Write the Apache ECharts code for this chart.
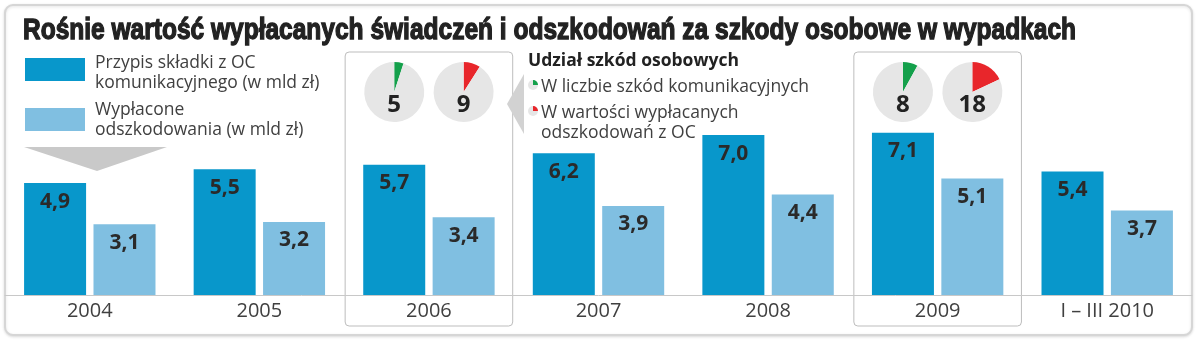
<!DOCTYPE html>
<html><head><meta charset="utf-8">
<script src="https://cdn.jsdelivr.net/npm/echarts@6/dist/echarts.min.js"></script>
<style>html,body{margin:0;padding:0;background:#fff}#c{width:1200px;height:343px}</style>
</head><body><div id="c"></div>
<script>
const titleText = 'Rośnie wartość wypłacanych świadczeń i odszkodowań za szkody osobowe w wypadkach';
const categories = ['2004', '2005', '2006', '2007', '2008', '2009', 'I – III 2010'];
const premiumName = 'Przypis składki z OC\nkomunikacyjnego (w mld zł)';
const premiums = [4.9, 5.5, 5.7, 6.2, 7.0, 7.1, 5.4];
const payoutName = 'Wypłacone\nodszkodowania (w mld zł)';
const payouts = [3.1, 3.2, 3.4, 3.9, 4.4, 5.1, 3.7];
const pieYears = ['2006', '2009'];
const shareInCount = [5, 8];
const shareInValue = [9, 18];
const pieLegendTitle = 'Udział szkód osobowych';
const pieLegendCount = 'W liczbie szkód komunikacyjnych';
const pieLegendValue = 'W wartości wypłacanych\nodszkodowań z OC';

const DARK = '#0897cb', LIGHT = '#80bfe1', GREEN = '#14a04b', RED = '#e8262b', PIEBG = '#e6e6e6';
const FONT = '"Open Sans", "DejaVu Sans", sans-serif';
const TEXTC = '#404040';
const BAR_W = 62, GAP = 7.4;
const GRID = { left: 5, right: 8, top: 66.5, bottom: 48 };

const chart = echarts.init(document.getElementById('c'), null, { renderer: 'canvas' });
const fmt = p => p.value.toFixed(1).replace('.', ',');
const labelStyle = { show: true, position: 'insideTop', distance: 8, formatter: fmt,
  fontFamily: FONT, fontWeight: 'bold', fontSize: 21, color: '#2a2a2a' };

chart.setOption({
  animation: false,
  backgroundColor: '#fff',
  grid: GRID,
  xAxis: { type: 'category', data: categories,
    axisLine: { lineStyle: { color: '#c8c8c8', width: 1 } },
    axisTick: { show: false },
    axisLabel: { fontFamily: FONT, fontSize: 20, color: TEXTC, margin: 6 } },
  yAxis: { type: 'value', min: 0, max: 10, show: false },
  series: [
    { name: premiumName, type: 'bar', data: premiums, barWidth: BAR_W, barGap: (GAP / BAR_W * 100) + '%',
      itemStyle: { color: DARK }, label: labelStyle, z: 3 },
    { name: payoutName, type: 'bar', data: payouts, barWidth: BAR_W,
      itemStyle: { color: LIGHT }, label: labelStyle, z: 3 }
  ]
});

const off = (BAR_W + GAP) / 2;
const band = (1200 - GRID.left - GRID.right) / categories.length;
const PIE_Y = 92, PIE_R = 30;
const pieSeries = [];
const graphics = [];

// outer frame
graphics.push({ type: 'rect', z: -10, shape: { x: 5, y: 5, width: 1187, height: 330, r: 8 },
  style: { fill: '#fff', stroke: '#d6d6d6', lineWidth: 2, shadowBlur: 3, shadowColor: 'rgba(0,0,0,0.12)', shadowOffsetY: 1 } });

pieYears.forEach((yr, i) => {
  const cx = chart.convertToPixel({ xAxisIndex: 0 }, yr);
  graphics.push({ type: 'rect', z: -5, shape: { x: cx - band / 2 + 1, y: 52, width: band - 2, height: 274, r: 4 },
    style: { fill: '#fff', stroke: '#bdbdbd', lineWidth: 1 } });
  [[shareInCount[i], GREEN, cx - off], [shareInValue[i], RED, cx + off]].forEach(([v, col, x]) => {
    pieSeries.push({ type: 'pie', center: [x, PIE_Y], radius: [0, PIE_R], startAngle: 90, clockwise: true,
      silent: true, label: { show: false }, labelLine: { show: false },
      data: [{ value: v, itemStyle: { color: col } }, { value: 100 - v, itemStyle: { color: PIEBG } }] });
    graphics.push({ type: 'text', z: 100, style: { x: x, y: PIE_Y + 13, text: String(v), textAlign: 'center', textVerticalAlign: 'middle',
      font: 'bold 24px ' + FONT, fill: '#222' } });
  });
});

// pointer triangle next to 2006 box
graphics.push({ type: 'polygon', z: -1, shape: { points: [[507, 104], [524, 74], [524, 134]] }, style: { fill: '#d2d2d2' } });

// bar legend
const LF = '17.5px ' + FONT;
graphics.push({ type: 'rect', shape: { x: 25, y: 58, width: 60, height: 23 }, style: { fill: DARK } });
graphics.push({ type: 'text', style: { x: 95, y: 73, text: premiumName, font: LF, fill: TEXTC, lineHeight: 20, textVerticalAlign: 'middle' } });
graphics.push({ type: 'rect', shape: { x: 25, y: 108, width: 60, height: 23 }, style: { fill: LIGHT } });
graphics.push({ type: 'text', style: { x: 95, y: 120, text: payoutName, font: LF, fill: TEXTC, lineHeight: 20, textVerticalAlign: 'middle' } });
graphics.push({ type: 'polygon', shape: { points: [[24, 147], [167, 147], [97, 171]] }, style: { fill: '#c9c9c9' } });

// pie legend
graphics.push({ type: 'text', style: { x: 528, y: 61, text: pieLegendTitle, font: 'bold 17.5px ' + FONT, fill: '#222', textVerticalAlign: 'middle' } });
[[85, GREEN, pieLegendCount, 87], [111, RED, pieLegendValue, 123]].forEach(([y, col, txt, ty]) => {
  graphics.push({ type: 'circle', shape: { cx: 533, cy: y, r: 5 }, style: { fill: PIEBG } });
  graphics.push({ type: 'sector', shape: { cx: 533, cy: y, r: 5, startAngle: -Math.PI / 2, endAngle: 0, clockwise: true }, style: { fill: col } });
  graphics.push({ type: 'text', style: { x: 541, y: ty, text: txt, font: LF, fill: TEXTC, lineHeight: 20, textVerticalAlign: 'middle' } });
});

// title: bold font compressed horizontally to the reference width, thickened with a stroke
const TITLE_FONT = 'bold 29px "Liberation Sans", Arial, sans-serif';
const ctx = document.createElement('canvas').getContext('2d');
ctx.font = TITLE_FONT;
const tw = ctx.measureText(titleText).width;
const sx = 1053 / tw;
graphics.push({ type: 'text', x: 23, y: 31, scaleX: sx, style: { x: 0, y: 0, text: titleText, font: TITLE_FONT, fill: '#222',
  stroke: '#222', lineWidth: 1.3, textVerticalAlign: 'middle' } });

chart.setOption({ series: chart.getOption().series.concat(pieSeries), graphic: graphics });
</script></body></html>
